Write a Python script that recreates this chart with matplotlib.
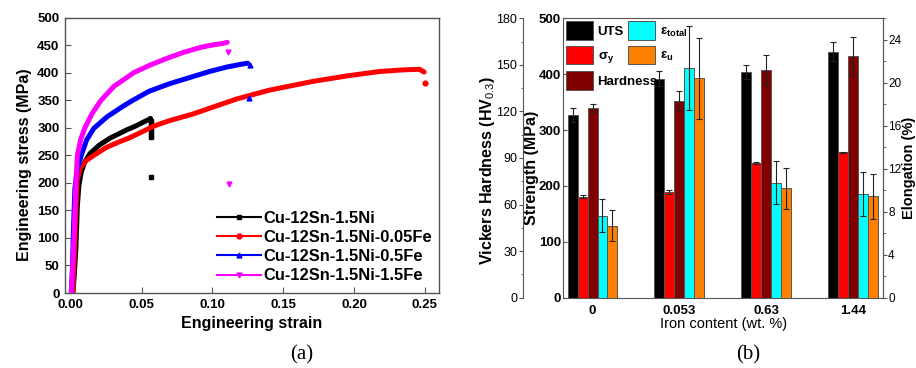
import matplotlib
matplotlib.use('Agg')
import matplotlib.pyplot as plt
from matplotlib.lines import Line2D
from matplotlib.ticker import MultipleLocator, FormatStrFormatter
import numpy as np

plt.rcParams['font.family'] = ['Liberation Sans', 'DejaVu Sans']
plt.rcParams['mathtext.fontset'] = 'custom'
plt.rcParams['mathtext.rm'] = 'Liberation Sans'
plt.rcParams['mathtext.it'] = 'Liberation Sans'

# ---- (a) tensile curves ----
curve_labels = ['Cu-12Sn-1.5Ni', 'Cu-12Sn-1.5Ni-0.05Fe', 'Cu-12Sn-1.5Ni-0.5Fe', 'Cu-12Sn-1.5Ni-1.5Fe']

strain_ni = [0.0015, 0.0025, 0.0037, 0.0047, 0.0058, 0.0075, 0.0100, 0.0136, 0.0200, 0.0277,
             0.0340, 0.0395, 0.0450, 0.0512, 0.0545, 0.0564]
stress_ni = [0, 30, 82, 157, 195, 220, 238, 253, 268, 281, 289, 296, 302, 310, 314, 317]
end_strain_ni = [0.0568, 0.0568, 0.0568, 0.0568, 0.0568, 0.0568, 0.0568, 0.0566]
end_stress_ni = [312, 307, 302, 297, 292, 287, 284, 211]

strain_fe005 = [0.0015, 0.0025, 0.0035, 0.0045, 0.0070, 0.0113, 0.0165, 0.0250, 0.0330, 0.0410,
                0.0500, 0.0587, 0.0700, 0.0865, 0.1000, 0.1170, 0.1400, 0.1710, 0.1950, 0.2180,
                0.2350, 0.2463, 0.2495]
stress_fe005 = [0, 60, 140, 205, 228, 241, 250, 264, 273, 281, 292, 303, 313, 325, 337, 352,
                368, 384, 394, 402, 405, 406, 401]
end_strain_fe005 = [0.2503]
end_stress_fe005 = [382]

strain_fe05 = [0.0005, 0.0012, 0.002, 0.003, 0.0045, 0.0075, 0.0113, 0.0164, 0.0258, 0.0364,
               0.0434, 0.0552, 0.070, 0.0865, 0.098, 0.110, 0.120, 0.125]
stress_fe05 = [0, 40, 120, 190, 222, 250, 278, 299, 320, 338, 349, 366, 380, 393, 402, 410, 415, 417]
end_strain_fe05 = [0.1265, 0.126]
end_stress_fe05 = [414, 353]

strain_fe15 = [0.0004, 0.0014, 0.0023, 0.003, 0.0037, 0.0047, 0.0070, 0.0099, 0.0152, 0.0212,
               0.0305, 0.0446, 0.0564, 0.0680, 0.0800, 0.0920, 0.1000, 0.1075, 0.1105]
stress_fe15 = [0, 49, 99, 149, 199, 249, 278, 299, 326, 349, 375, 400, 414, 426, 437, 446, 450, 453, 455]
end_strain_fe15 = [0.111, 0.112]
end_stress_fe15 = [438, 198]

# ---- (b) mechanical properties vs iron content ----
iron_content = ['0', '0.053', '0.63', '1.44']
uts = [327, 392, 404, 440]
uts_err = [12, 14, 12, 17]
sigma_y = [181, 189, 241, 260]
sigma_y_err = [2, 3, 1, 1.5]
hardness = [122, 127, 146.7, 155.7]
hardness_err = [2.6, 6, 9.7, 12]
eps_total = [7.64, 21.36, 10.7, 9.63]
eps_total_err = [1.5, 3.9, 2.0, 2.04]
eps_u = [6.68, 20.4, 10.19, 9.44]
eps_u_err = [1.45, 3.8, 1.9, 2.1]

fig = plt.figure(figsize=(9.16, 3.68), dpi=100)
frame_col = '#555555'

# ---------- left panel ----------
ax = fig.add_axes([65/916, 1-293/368, 374/916, 275.5/368])
series = [
    (strain_ni, stress_ni, end_strain_ni, end_stress_ni, 'black', 's'),
    (strain_fe005, stress_fe005, end_strain_fe005, end_stress_fe005, '#ff0000', 'o'),
    (strain_fe05, stress_fe05, end_strain_fe05, end_stress_fe05, '#0000ff', '^'),
    (strain_fe15, stress_fe15, end_strain_fe15, end_stress_fe15, '#ff00ff', 'v'),
]
handles = []
for (sx, sy, ex, ey, col, mk), lab in zip(series, curve_labels):
    ax.plot(sx, sy, color=col, lw=3.6, solid_capstyle='round', solid_joinstyle='round')
    ax.plot(ex, ey, ls='none', marker=mk, color=col, ms=3.5)
    handles.append(Line2D([], [], color=col, lw=1.5, marker=mk, ms=3.5, label=lab))

ax.set_xlim(-0.004, 0.26)
ax.set_ylim(0, 500)
ax.xaxis.set_major_locator(MultipleLocator(0.05))
ax.yaxis.set_major_locator(MultipleLocator(50))
ax.xaxis.set_major_formatter(FormatStrFormatter('%.2f'))
ax.tick_params(direction='in', length=4, width=0.8, color=frame_col, labelsize=9.5)
ax.tick_params(axis='x', pad=4)
ax.tick_params(axis='y', pad=4)
for lbl in ax.get_xticklabels() + ax.get_yticklabels():
    lbl.set_fontweight('bold')
for sp in ax.spines.values():
    sp.set_color(frame_col)
    sp.set_linewidth(1.0)
ax.set_xlabel('Engineering strain', fontsize=11.5, fontweight='bold')
ax.set_ylabel('Engineering stress (MPa)', fontsize=11.5, fontweight='bold')
ax.xaxis.set_label_coords(0.5, -0.085)
ax.yaxis.set_label_coords(-0.087, 0.466)

leg = ax.legend(handles=handles, loc='lower right', bbox_to_anchor=(0.981, 0.035),
                frameon=False, numpoints=1, handlelength=2.7, handletextpad=0.1,
                labelspacing=0.25, borderpad=0.0, borderaxespad=0.0,
                prop={'size': 11.9, 'weight': 'bold'})

fig.text(302/916, 1-355/368, '(a)', family='Liberation Serif', fontsize=15,
         ha='center', va='center')

# ---------- right panel ----------
axb = fig.add_axes([563/916, 1-297.7/368, 320.3/916, 279.4/368])
ax_hv = axb.twinx()
ax_el = axb.twinx()

xpos = np.arange(len(iron_content))
w = 0.115
edge = dict(edgecolor='#555555', linewidth=0.7)
err_kw = dict(fmt='none', ecolor='#222222', elinewidth=0.8, capsize=2.2, capthick=0.8)

b_uts = axb.bar(xpos - 2*w, uts, w, color='black', **edge)
axb.errorbar(xpos - 2*w, uts, yerr=uts_err, **err_kw)
b_sy = axb.bar(xpos - w, sigma_y, w, color='#ff0000', **edge)
axb.errorbar(xpos - w, sigma_y, yerr=sigma_y_err, **err_kw)
b_hv = ax_hv.bar(xpos, hardness, w, color='#800000', **edge)
ax_hv.errorbar(xpos, hardness, yerr=hardness_err, **err_kw)
b_et = ax_el.bar(xpos + w, eps_total, w, color='#00ffff', **edge)
ax_el.errorbar(xpos + w, eps_total, yerr=eps_total_err, **err_kw)
b_eu = ax_el.bar(xpos + 2*w, eps_u, w, color='#ff8000', **edge)
ax_el.errorbar(xpos + 2*w, eps_u, yerr=eps_u_err, **err_kw)

axb.set_xlim(-0.34, 3.35)
axb.set_ylim(0, 500)
ax_hv.set_ylim(0, 180)
ax_el.set_ylim(0, 26)

axb.set_xticks(xpos)
axb.set_xticklabels(iron_content, fontweight='bold')
axb.tick_params(axis='x', length=0, pad=5.5, labelsize=9.5)
axb.yaxis.set_major_locator(MultipleLocator(100))
axb.tick_params(axis='y', direction='in', length=3, pad=1.5, labelsize=9.5, color=frame_col)
for lbl in axb.get_yticklabels():
    lbl.set_fontweight('bold')
for sp in axb.spines.values():
    sp.set_color(frame_col)
axb.set_xlabel('Iron content (wt. %)', fontsize=10.5)
axb.xaxis.set_label_coords(0.5, -0.068)
axb.set_ylabel('Strength (MPa)', fontsize=11.5, fontweight='bold')
axb.yaxis.set_label_coords(-0.075, 0.463)

# hardness axis on an offset left spine
ax_hv.yaxis.tick_left()
ax_hv.yaxis.set_label_position('left')
ax_hv.spines['left'].set_position(('outward', 29))
ax_hv.spines['left'].set_visible(True)
for s in ['right', 'top', 'bottom']:
    ax_hv.spines[s].set_visible(False)
ax_hv.spines['left'].set_color(frame_col)
ax_hv.yaxis.set_major_locator(MultipleLocator(30))
ax_hv.yaxis.set_minor_locator(MultipleLocator(15))
ax_hv.tick_params(axis='y', which='major', direction='out', length=3, pad=1, labelsize=9, color=frame_col)
ax_hv.tick_params(axis='y', which='minor', direction='out', length=1.8, color=frame_col)
ax_hv.set_ylabel('Vickers Hardness (HV$_{0.3}$)', fontsize=11.5, fontweight='bold')
ax_hv.yaxis.set_label_coords(-0.207, 0.457)

# elongation axis on the right
for s in ['left', 'top', 'bottom']:
    ax_el.spines[s].set_visible(False)
ax_el.spines['right'].set_color(frame_col)
ax_el.yaxis.set_major_locator(MultipleLocator(4))
ax_el.yaxis.set_minor_locator(MultipleLocator(2))
ax_el.tick_params(axis='y', which='major', direction='out', length=3, pad=0.5, labelsize=8.5, color=frame_col)
ax_el.tick_params(axis='y', which='minor', direction='out', length=1.8, color=frame_col)
ax_el.set_ylabel('Elongation (%)', fontsize=10.5, fontweight='bold')
ax_el.yaxis.set_label_coords(1.057, 0.463)

# legend laid out as two blocks, the second one sitting over the "Hardness" row
leg_kw = dict(loc='upper left', frameon=False, handlelength=2.05, handleheight=1.8,
              handletextpad=0.35, labelspacing=0.45, borderpad=0.0, borderaxespad=0.0,
              prop={'size': 9.5, 'weight': 'bold'})
leg_b1 = ax_el.legend([b_uts, b_sy, b_hv],
                      ['UTS', 'σ$_\\mathregular{y}$', 'Hardness'],
                      bbox_to_anchor=(0.009, 0.99), **leg_kw)
ax_el.add_artist(leg_b1)
leg_b2 = ax_el.legend([b_et, b_eu],
                      ['ε$_\\mathregular{total}$', 'ε$_\\mathregular{u}$'],
                      bbox_to_anchor=(0.203, 0.99), **leg_kw)

fig.text(748/916, 1-355/368, '(b)', family='Liberation Serif', fontsize=15,
         ha='center', va='center')

fig.savefig('out.png', dpi=100)
